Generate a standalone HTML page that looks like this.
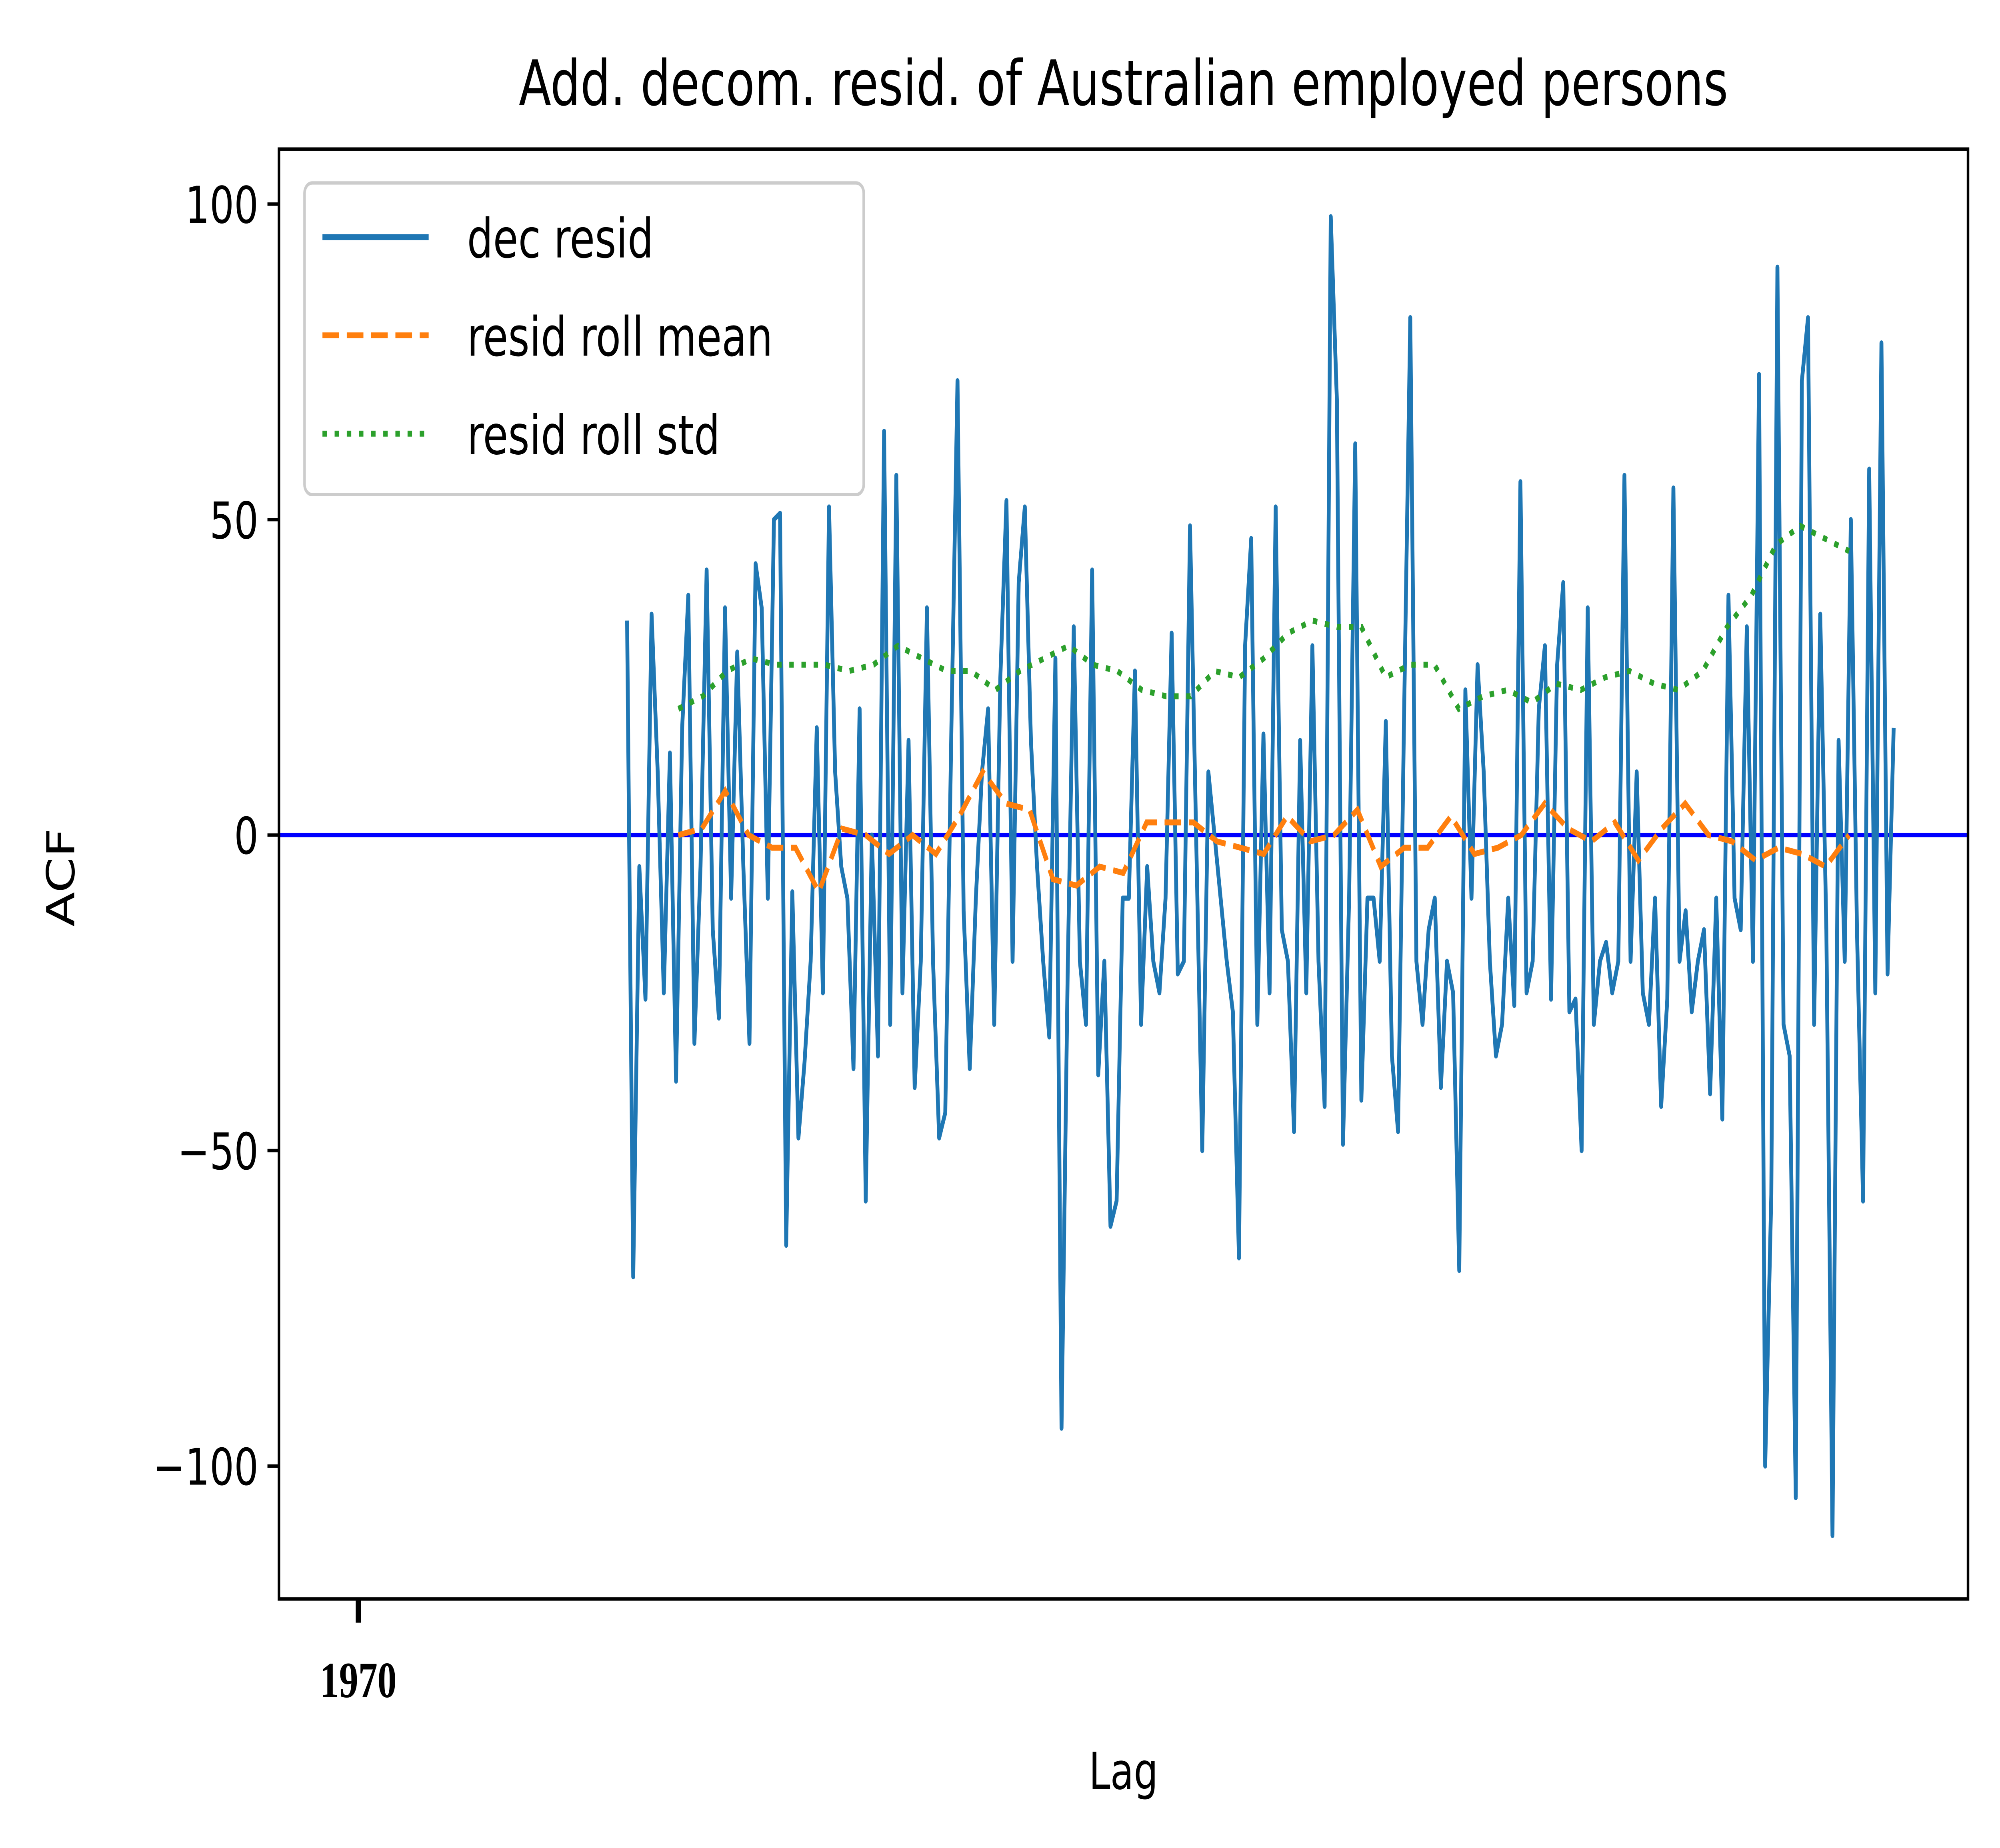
<!DOCTYPE html>
<html><head><meta charset="utf-8"><style>html,body{margin:0;padding:0;background:#fff;width:100vw;height:100vh;overflow:hidden}svg{display:block;width:100vw;height:100vh}</style></head>
<body>
<svg style="width:100vw;height:100vh" viewBox="0 0 1563 1091" preserveAspectRatio="none" xmlns="http://www.w3.org/2000/svg" font-family="'DejaVu Sans','Liberation Sans',sans-serif">
<rect x="0" y="0" width="1563" height="1091" fill="#fff"/>
<g id="plot"></g>
<text x="878" y="62" font-size="37" text-anchor="middle">Add. decom. resid. of Australian employed persons</text>
<text x="878" y="1056" font-size="30" text-anchor="middle">Lag</text>
<text x="0" y="0" font-size="30" text-anchor="middle" transform="translate(58,518) rotate(-90)">ACF</text>
<g>
<rect x="238" y="108" width="437" height="184" rx="6" fill="#fff" fill-opacity="0.8" stroke="#ccc" stroke-width="2"/>
<line x1="252" y1="140" x2="335" y2="140" stroke="#1f77b4" stroke-width="3.5"/>
<text x="365" y="152" font-size="32">dec resid</text>
<line x1="252" y1="198" x2="335" y2="198" stroke="#ff7f0e" stroke-width="3.5" stroke-dasharray="13,6"/>
<text x="365" y="210" font-size="32">resid roll mean</text>
<line x1="252" y1="256" x2="335" y2="256" stroke="#2ca02c" stroke-width="3.5" stroke-dasharray="3.5,6"/>
<text x="365" y="268" font-size="32">resid roll std</text>
</g>
</svg>
<script>
const residStart = 1978.08, residEnd = 2016.15;
const residValues = [34,-70,-5,-26,35,10,-25,13,-39,17,38,-33,-5,42,-15,-29,36,-10,29,-5,-33,43,36,-10,50,51,-65,-9,-48,-36,-20,17,-25,52,10,-5,-10,-37,20,-58,0,-35,64,-30,57,-25,15,-40,-20,36,-20,-48,-44,17,72,-12,-37,-10,10,20,-30,25,53,-20,40,52,15,-5,-20,-32,28,-94,-22,33,-20,-30,42,-38,-20,-62,-58,-10,-10,26,-30,-5,-20,-25,-10,32,-22,-20,49,0,-50,10,0,-10,-20,-28,-67,30,47,-30,16,-25,52,-15,-20,-47,15,-25,30,-20,-43,98,69,-49,-10,62,-42,-10,-10,-20,18,-35,-47,20,82,-20,-30,-15,-10,-40,-20,-25,-69,23,-10,27,10,-20,-35,-30,-10,-27,56,-25,-20,20,30,-26,27,40,-28,-26,-50,36,-30,-20,-17,-25,-20,57,-20,10,-25,-30,-10,-43,-26,55,-20,-12,-28,-20,-15,-41,-10,-45,38,-10,-15,33,-20,73,-100,-57,90,-30,-35,-105,72,82,-30,35,-15,-111,15,-20,50,-15,-58,58,-25,78,-22,17];
const stdStart = 1979.62, stdEnd = 2014.81;
const stdValues = [20,22,26,28,27,27,27,26,27,30,28,26,26,23,26,28,30,27,26,23,22,22,26,25,28,32,34,33,33,25,27,27,20,22,23,21,24,23,25,26,24,23,26,33,38,46,49,47,45];
const meanStart = 1979.62, meanEnd = 2014.81;
const meanValues = [0,1,7,0,-2,-2,-9,1,0,-3,0,-3,3,10,5,4,-7,-8,-5,-6,2,2,2,-1,-2,-3,3,-1,0,4,-5,-2,-2,3,-3,-2,0,5,1,-1,2,-4,1,5,0,-1,-4,-2,-3,-5,0];
const yTicks = [100,50,0,-50,-100];
const xTicks = [1970];

const L=218,R=1538,T=88,B=944;
const xScale = yr => 280 + (yr-1970)*26;
const yScale = v => 493 - v*3.725;
const NS='http://www.w3.org/2000/svg';
const g=document.getElementById('plot');
function mk(tag,attrs){const e=document.createElementNS(NS,tag);for(const k in attrs)e.setAttribute(k,attrs[k]);g.appendChild(e);return e;}
function pts(vals,s,e){const n=vals.length;return vals.map((v,i)=>{const yr=s+(e-s)*i/(n-1);return xScale(yr).toFixed(2)+','+yScale(v).toFixed(2);}).join(' ');}

const zl=mk('line',{x1:L,y1:yScale(0),x2:R,y2:yScale(0),stroke:'#0000ff','stroke-width':2.5});



const p1=mk('polyline',{points:pts(residValues,residStart,residEnd),fill:'none',stroke:'#1f77b4','stroke-width':3,'stroke-linejoin':'round'});


const p2=mk('polyline',{points:pts(meanValues,meanStart,meanEnd),fill:'none',stroke:'#ff7f0e','stroke-width':3.5,'stroke-dasharray':'13,6'});


const p3=mk('polyline',{points:pts(stdValues,stdStart,stdEnd),fill:'none',stroke:'#2ca02c','stroke-width':3.5,'stroke-dasharray':'3.5,6'});



const fr=mk('rect',{x:L,y:T,width:R-L,height:B-T,fill:'none',stroke:'#000','stroke-width':2});



yTicks.forEach(v=>{
  const y=yScale(v);
  const tl=mk('line',{x1:L-9,y1:y,x2:L,y2:y,stroke:'#000','stroke-width':2});
  
  
  const t=mk('text',{x:L-16,y:y+11,'font-size':30,'text-anchor':'end'});
  
  
  t.textContent=v<0?'\u2212'+(-v):String(v);
});
xTicks.forEach(v=>{
  const x=xScale(v);
  const tl=mk('line',{x1:x,y1:B,x2:x,y2:B+14,stroke:'#000','stroke-width':4});
  
  
  const t=mk('text',{x:x,y:B+58,'font-size':30,'text-anchor':'middle','font-weight':'bold','font-family':"'Liberation Serif',serif"});
  
  
  t.textContent=String(v);
});
</script>
</body></html>
